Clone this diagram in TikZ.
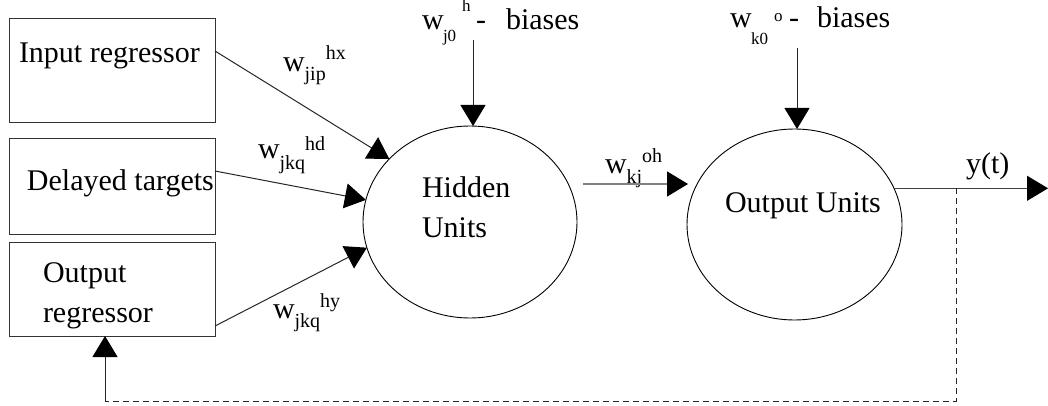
\documentclass[tikz,border=0pt]{standalone}
\usepackage{fontspec}
\setmainfont{Liberation Serif}
\usetikzlibrary{arrows.meta,shapes.geometric,calc}

% text of a given point size
\newcommand{\sz}[2]{{\fontsize{#1}{#1}\selectfont #2}}
% weight symbol: w with lowered subscript and raised superscript set one after the other
\newcommand{\wlab}[5]{w\raisebox{-#4pt}{\sz{#3}{#1}}\raisebox{#5pt}{\sz{#3}{#2}}}

\begin{document}
\begin{tikzpicture}[x=1pt,y=-1pt,
  box/.style={draw=black!80,line width=1pt,rectangle,inner sep=0pt,outer sep=0pt,minimum width=206pt},
  unit/.style={draw=black,line width=0.9pt,ellipse,inner sep=0pt,outer sep=0pt},
  txt/.style={anchor=base west,inner sep=0pt,outer sep=0pt,font=\fontsize{30}{36}\selectfont},
  idx/.style={anchor=base west,inner sep=0pt,outer sep=0pt,font=\fontsize{17}{17}\selectfont},
  link/.style={draw=black!85,line width=1pt,-{Triangle[length=21pt,width=25pt,color=black]}},
  feed/.style={draw=black!85,line width=1pt,dash pattern=on 6pt off 4pt}
]
\useasboundingbox (0,0) rectangle (1048,406);

% input boxes
\node[box,minimum height=104pt] (inp) at (112,71) {};
\node[box,minimum height=95pt] (del) at (112,186.5) {};
\node[box,minimum height=94pt] (ore) at (112,289) {};
\node[txt] (tinp) at (19,63) {Input regressor};
\node[txt] (tdel) at (27,190) {Delayed targets};
\node[txt] (tore1) at (43,282) {Output};
\node[txt] (tore2) at (43,322) {regressor};

% hidden and output layers
\node[unit,minimum width=214pt,minimum height=192pt] (hid) at (470,222) {};
\node[unit,minimum width=215pt,minimum height=191pt] (out) at (794.5,224.5) {};
\node[txt] (thid1) at (422,197) {Hidden};
\node[txt] (thid2) at (422,237) {Units};
\node[txt] (tout) at (725,212) {Output Units};

% weight labels
\node[txt] (lhx) at (283,72) {\wlab{jip}{hx}{20}{9}{12}};
\node[txt] (lhd) at (258,159) {\wlab{jkq}{hd}{20}{10}{9}};
\node[txt] (lhy) at (273,318) {\wlab{jkq}{hy}{20}{9}{11}};
\node[txt] (loh) at (605,173) {\wlab{kj}{oh}{20}{10}{10}};

% bias labels, each piece set in place
\node[txt] (hbw) at (422,30) {w};
\node[idx] (hbs) at (443,42) {j0};
\node[idx] (hbp) at (462,12) {h};
\node[txt] (hbd) at (476,30) {-};
\node[txt] (hbb) at (506,30) {biases};
\node[txt] (obw) at (730,28) {w};
\node[idx] (obs) at (751,45) {k0};
\node[idx] (obp) at (774,22) {o};
\node[txt] (obd) at (789,28) {-};
\node[txt] (obb) at (817,28) {biases};
\node[txt] (lyt) at (966,173) {y(t)};

% connector end points
\coordinate (hbt) at (473,40);
\coordinate (obt) at (797,48);
\coordinate (yend) at (1048,188);
\coordinate (fb) at (956,188);
\coordinate (fbc) at (105,401);

% inputs to hidden units
\draw[link] ([yshift=20pt]inp.east) -- (hid.142);
\draw[link] ([yshift=15.5pt]del.east) -- (hid.168);
\draw[link] ([yshift=-37pt]ore.east) -- (hid.194);

% biases
\draw[link] (hbt) -- (hbt |- hid.north);
\draw[link] (obt) -- (obt |- out.north);

% hidden to output
\draw[link,draw=black!50,line width=1.5pt] ($(hid.east)+(6,-38)$) -- ($(out.west)+(1,-40.5)$);

% network output and feedback
\draw[link,draw=black!75] (out.20) -- (out.20 -| yend);
\draw[feed] (fb) |- (fbc);
\draw[link] (fbc) -- (fbc |- ore.south);
\end{tikzpicture}
\end{document}
